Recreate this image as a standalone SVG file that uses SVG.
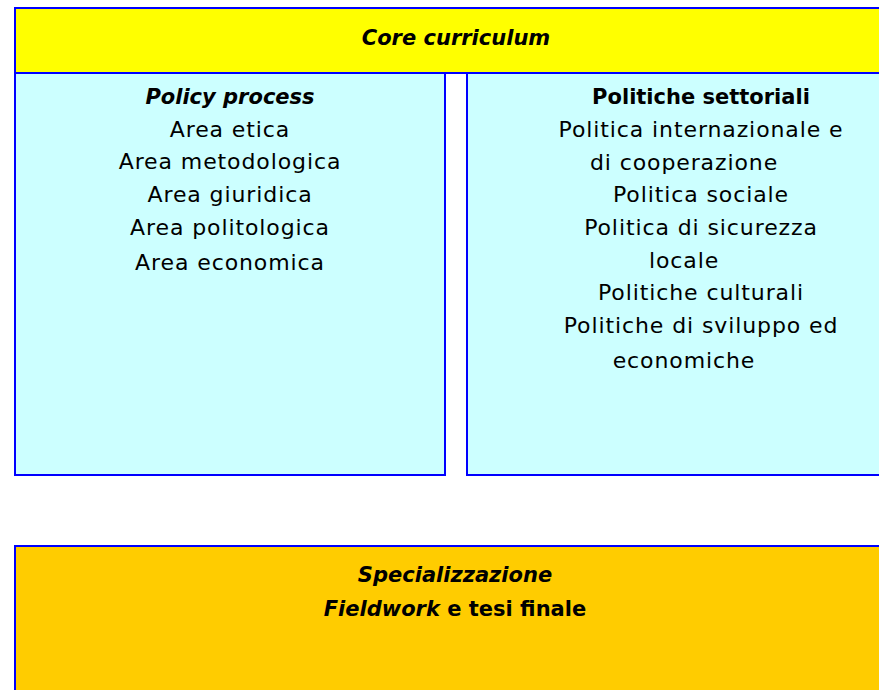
<svg xmlns="http://www.w3.org/2000/svg" width="879" height="690" viewBox="0 0 879 690">
<style>
.box{stroke:#0000ff;stroke-width:2}
text{font-family:"DejaVu Sans","Open Sans",sans-serif;font-size:22px;letter-spacing:0.9px;fill:#000;text-anchor:middle}
.b{font-weight:bold;font-size:21px;letter-spacing:0}
.i{font-style:italic}
</style>
<rect width="879" height="690" fill="#fff"/>
<g id="core">
<rect class="box" x="15" y="8" width="880" height="65" fill="#ffff00"/>
<text class="b i" x="456" y="45">Core curriculum</text>
</g>
<g id="policy">
<rect class="box" x="15" y="73" width="430" height="402" fill="#ccffff"/>
<text class="b i" x="230" y="104">Policy process</text>
<text x="230" y="137">Area etica</text>
<text x="230" y="169">Area metodologica</text>
<text x="230" y="202">Area giuridica</text>
<text x="230" y="235">Area politologica</text>
<text x="230" y="270">Area economica</text>
</g>
<g id="settoriali">
<rect class="box" x="467" y="73" width="430" height="402" fill="#ccffff"/>
<text class="b" x="701" y="104">Politiche settoriali</text>
<text x="701" y="137">Politica internazionale e</text>
<text x="684" y="170">di cooperazione</text>
<text x="701" y="202">Politica sociale</text>
<text x="701" y="235">Politica di sicurezza</text>
<text x="684" y="268">locale</text>
<text x="701" y="300">Politiche culturali</text>
<text x="701" y="333">Politiche di sviluppo ed</text>
<text x="684" y="368">economiche</text>
</g>
<g id="specializzazione">
<rect class="box" x="15" y="546" width="880" height="160" fill="#ffcc00"/>
<text class="b i" x="455" y="582">Specializzazione</text>
<text class="b" x="455" y="616"><tspan class="i">Fieldwork</tspan> e tesi finale</text>
</g>
<g id="connectors"></g>
</svg>
